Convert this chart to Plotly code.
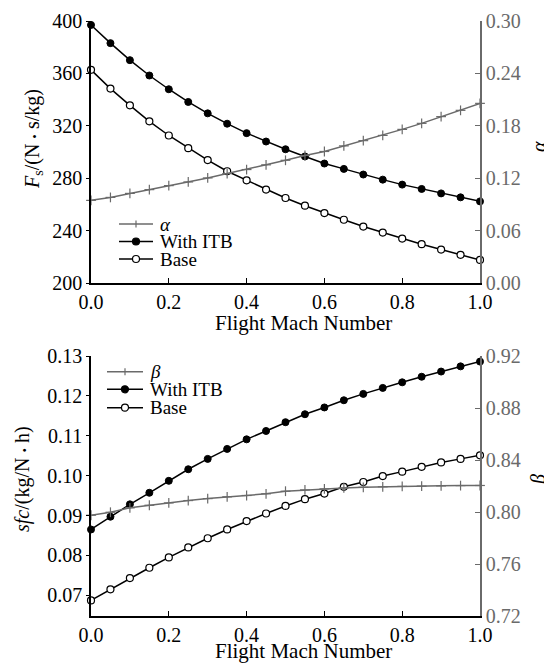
import plotly.graph_objects as go

# ---------------- data ----------------
mach = [0.0, 0.05, 0.1, 0.15, 0.2, 0.25, 0.3, 0.35, 0.4, 0.45, 0.5,
        0.55, 0.6, 0.65, 0.7, 0.75, 0.8, 0.85, 0.9, 0.95, 1.0]

fs_itb = [397.0, 383.1, 370.1, 358.4, 347.9, 338.2, 329.5, 321.6, 314.4, 308.0, 302.1,
          296.6, 291.2, 287.1, 282.8, 278.9, 275.1, 271.8, 268.4, 265.4, 262.3]
fs_base = [362.7, 348.4, 335.6, 323.4, 312.6, 302.9, 293.8, 285.3, 278.4, 271.3, 264.9,
           259.0, 253.4, 248.3, 243.1, 238.5, 233.9, 229.6, 225.5, 221.5, 217.6]
alpha = [0.0946, 0.0980, 0.1026, 0.1069, 0.1115, 0.1157, 0.1203, 0.1253, 0.1299, 0.1353, 0.1405,
         0.1460, 0.1506, 0.1570, 0.1630, 0.1690, 0.1759, 0.1828, 0.1905, 0.1977, 0.2057]

sfc_itb = [0.0865, 0.0897, 0.0928, 0.0957, 0.0987, 0.1016, 0.1042, 0.1067, 0.1091, 0.1112, 0.1134,
           0.1154, 0.1171, 0.1189, 0.1205, 0.1220, 0.1234, 0.1248, 0.1261, 0.1274, 0.1286]
sfc_base = [0.0687, 0.0715, 0.0743, 0.0769, 0.0795, 0.0820, 0.0843, 0.0865, 0.0886, 0.0905, 0.0924,
            0.0941, 0.0955, 0.0972, 0.0984, 0.0999, 0.1010, 0.1022, 0.1033, 0.1042, 0.1051]
beta = [0.7975, 0.7998, 0.8032, 0.8052, 0.8070, 0.8088, 0.8103, 0.8117, 0.8127, 0.8140, 0.8160,
        0.8170, 0.8178, 0.8185, 0.8190, 0.8194, 0.8197, 0.8199, 0.8201, 0.8203, 0.8204]

x_ticks = [0.0, 0.2, 0.4, 0.6, 0.8, 1.0]
x_ticktext = ["0.0", "0.2", "0.4", "0.6", "0.8", "1.0"]

# ---------------- style ----------------
W, H = 552, 664
OFF = 8  # page body margin
FONT = "Liberation Serif"
GRAY = "#6a6a6a"
BLACK = "#000000"
FS = 20
LFS = 19
DOT = "<span style='font-size:13px'>•</span>"


def fx(px):
    return (px - OFF) / W


def fy(py):
    return 1 - (py - OFF) / H


fig = go.Figure()

marker_plus_v = dict(symbol="line-ns-open", size=7, color=GRAY, line=dict(color=GRAY, width=1.2))
marker_plus_h = dict(symbol="line-ew-open", size=7, color=GRAY, line=dict(color=GRAY, width=1.2))
marker_fill = dict(symbol="circle", size=7, color=BLACK, line=dict(color=BLACK, width=1))
marker_open = dict(symbol="circle", size=7, color="white", line=dict(color=BLACK, width=1.2))

# top panel
fig.add_trace(go.Scatter(x=mach, y=alpha, mode="lines+markers", xaxis="x", yaxis="y2",
                         line=dict(color=GRAY, width=1.5), marker=marker_plus_v, cliponaxis=False,
                         showlegend=False, name="α"))
fig.add_trace(go.Scatter(x=mach, y=alpha, mode="markers", xaxis="x", yaxis="y2",
                         marker=marker_plus_h, cliponaxis=False, showlegend=False, hoverinfo="skip"))
fig.add_trace(go.Scatter(x=mach, y=fs_itb, mode="lines+markers", xaxis="x", yaxis="y",
                         line=dict(color=BLACK, width=1.5), marker=marker_fill, cliponaxis=False,
                         showlegend=False, name="With ITB"))
fig.add_trace(go.Scatter(x=mach, y=fs_base, mode="lines+markers", xaxis="x", yaxis="y",
                         line=dict(color=BLACK, width=1.5), marker=marker_open, cliponaxis=False,
                         showlegend=False, name="Base"))
# bottom panel
fig.add_trace(go.Scatter(x=mach, y=beta, mode="lines+markers", xaxis="x2", yaxis="y4",
                         line=dict(color=GRAY, width=1.5), marker=marker_plus_v, cliponaxis=False,
                         showlegend=False, name="β"))
fig.add_trace(go.Scatter(x=mach, y=beta, mode="markers", xaxis="x2", yaxis="y4",
                         marker=marker_plus_h, cliponaxis=False, showlegend=False, hoverinfo="skip"))
fig.add_trace(go.Scatter(x=mach, y=sfc_itb, mode="lines+markers", xaxis="x2", yaxis="y3",
                         line=dict(color=BLACK, width=1.5), marker=marker_fill, cliponaxis=False,
                         showlegend=False, name="With ITB"))
fig.add_trace(go.Scatter(x=mach, y=sfc_base, mode="lines+markers", xaxis="x2", yaxis="y3",
                         line=dict(color=BLACK, width=1.5), marker=marker_open, cliponaxis=False,
                         showlegend=False, name="Base"))

x_dom = [fx(91), fx(480)]
top_dom = [fy(283), fy(21)]
bot_dom = [fy(616), fy(356)]

xcommon = dict(range=[0, 1], tickvals=x_ticks, ticktext=x_ticktext, ticks="inside", ticklen=5,
               tickcolor=BLACK, showline=True, linecolor=BLACK, linewidth=1.5, showgrid=False,
               zeroline=False, tickfont=dict(family=FONT, size=FS, color=BLACK), domain=x_dom,
               automargin=False)
lcommon = dict(ticks="outside", ticklen=3, tickcolor=BLACK, showline=True, linecolor=BLACK,
               linewidth=1.5, showgrid=False, zeroline=False, automargin=False,
               tickfont=dict(family=FONT, size=FS, color=BLACK))
rcommon = dict(ticks="inside", ticklen=5, tickcolor=GRAY, showline=True, linecolor=GRAY,
               linewidth=1.5, showgrid=False, zeroline=False, side="right", automargin=False,
               tickfont=dict(family=FONT, size=FS, color=GRAY))

fig.update_layout(
    template="none",
    width=W, height=H, autosize=False,
    margin=dict(l=0, r=0, t=0, b=0),
    paper_bgcolor="white", plot_bgcolor="white",
    font=dict(family=FONT, size=FS, color=BLACK),
    showlegend=False,
    xaxis=dict(anchor="y", **xcommon),
    yaxis=dict(anchor="x", domain=top_dom, range=[200, 400], tickvals=[200, 240, 280, 320, 360, 400],
               **lcommon),
    yaxis2=dict(anchor="x", overlaying="y", range=[0, 0.30],
                tickvals=[0, 0.06, 0.12, 0.18, 0.24, 0.30], tickformat=".2f", **rcommon),
    xaxis2=dict(anchor="y3", **xcommon),
    yaxis3=dict(anchor="x2", domain=bot_dom, range=[0.0648, 0.13],
                tickvals=[0.07, 0.08, 0.09, 0.10, 0.11, 0.12, 0.13], tickformat=".2f", **lcommon),
    yaxis4=dict(anchor="x2", overlaying="y3", range=[0.72, 0.92],
                tickvals=[0.72, 0.76, 0.80, 0.84, 0.88, 0.92], tickformat=".2f", **rcommon),
)

ann = []
shapes = []


def txt(x, y, s, angle=0, xanchor="center", color=BLACK, size=FS):
    ann.append(dict(x=fx(x), y=fy(y), xref="paper", yref="paper", text=s, showarrow=False,
                    textangle=angle, xanchor=xanchor, yanchor="middle",
                    font=dict(family=FONT, size=size, color=color)))


# axis titles
txt(303, 323, "Flight Mach Number", size=21)
txt(303, 651, "Flight Mach Number", size=21)
txt(33, 139, "<i>F</i><sub>s</sub>/(N " + DOT + " s/kg)", angle=-90)
txt(539, 147, "<i>α</i>", angle=-90)
txt(22, 479, "<i>sfc</i>/(kg/N " + DOT + " h)", angle=-90)
txt(538, 480, "<i>β</i>", angle=-90)


def legend_entry(x0, x1, y, kind, label):
    col = GRAY if kind == "plus" else BLACK
    shapes.append(dict(type="line", xref="paper", yref="paper", x0=fx(x0), x1=fx(x1),
                       y0=fy(y), y1=fy(y), line=dict(color=col, width=1.5)))
    xm = (x0 + x1) / 2
    r = 3.5
    if kind == "plus":
        shapes.append(dict(type="line", xref="paper", yref="paper", x0=fx(xm), x1=fx(xm),
                           y0=fy(y - r), y1=fy(y + r), line=dict(color=col, width=1.2)))
    else:
        shapes.append(dict(type="circle", xref="paper", yref="paper", x0=fx(xm - r), x1=fx(xm + r),
                           y0=fy(y + r), y1=fy(y - r),
                           fillcolor=BLACK if kind == "fill" else "white",
                           line=dict(color=BLACK, width=1.2)))
    txt(x1 + 5, y, label, xanchor="left", size=LFS)


legend_entry(119, 153, 224, "plus", "<i>α</i>")
legend_entry(119, 153, 241.5, "fill", "With ITB")
legend_entry(119, 153, 259, "open", "Base")

legend_entry(107, 143, 371.7, "plus", "<i>β</i>")
legend_entry(107, 143, 389.3, "fill", "With ITB")
legend_entry(107, 143, 407.7, "open", "Base")

fig.update_layout(annotations=ann, shapes=shapes)

fig.write_html("out.html")
